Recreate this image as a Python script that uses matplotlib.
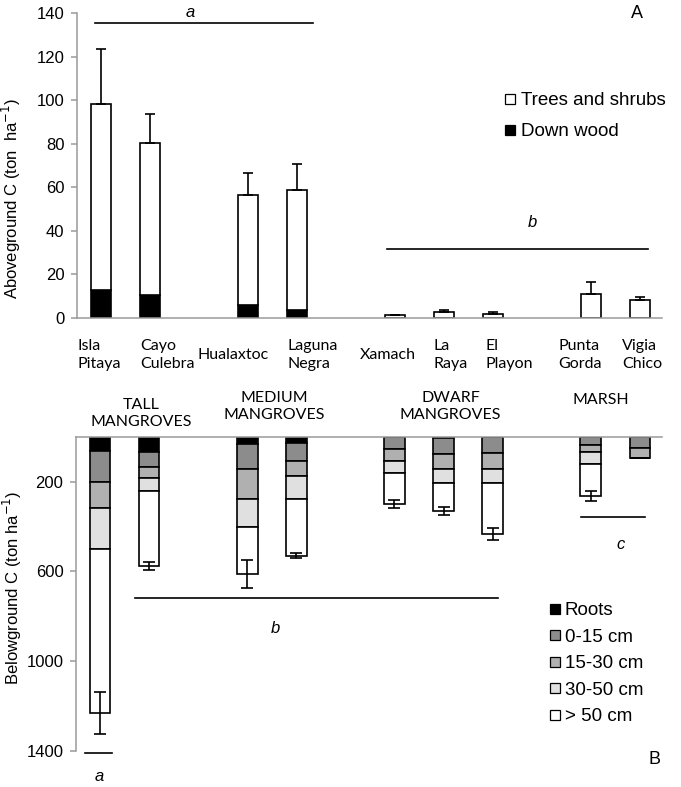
"""
Above- and belowground carbon stocks in mangroves and marsh sites.
"""

import matplotlib.pyplot as plt
from matplotlib.lines import Line2D

# sites, in plotting order (gaps between the forest types)
sites = [
    "Isla\nPitaya", "Cayo\nCulebra", "Hualaxtoc", "Laguna\nNegra",
    "Xamach", "La\nRaya", "El\nPlayon", "Punta\nGorda", "Vigia\nChico",
]
site_pos = [0, 1, 3, 4, 6, 7, 8, 10, 11]
groups = ["TALL\nMANGROVES", "MEDIUM\nMANGROVES", "DWARF\nMANGROVES", "MARSH"]

# aboveground C (ton/ha)
above_total = [98.0, 80.3, 56.5, 58.9, 1.4, 2.9, 2.0, 11.2, 8.2]
down_wood = [13.0, 10.6, 6.0, 3.5, 0.0, 0.0, 0.0, 0.0, 0.0]
above_err = [25.5, 13.1, 10.0, 11.6, 0.0, 0.8, 0.8, 5.3, 1.6]

# belowground C (ton/ha), per layer
roots = [64, 67, 34, 27, 0, 5, 0, 0, 0]
soil_0_15 = [137, 69, 111, 81, 56, 74, 71, 37, 49]
soil_15_30 = [115, 46, 134, 67, 52, 66, 74, 31, 44]
soil_30_50 = [185, 59, 125, 104, 52, 59, 59, 55, 0]
soil_50 = [730, 334, 208, 251, 141, 126, 230, 141, 0]
below_err = [93, 19, 63, 10, 18, 19, 28, 22, 0]

layer_names = ["Roots", "0-15 cm", "15-30 cm", "30-50 cm", "> 50 cm"]
layer_colors = ["#000000", "#8c8c8c", "#b0b0b0", "#e0e0e0", "#ffffff"]

AXIS_GRAY = "#9a9a9a"
SANS = ["Liberation Sans", "DejaVu Sans"]
HUMANIST = ["Lato", "DejaVu Sans"]
BAR_W = 0.42

plt.rcParams["font.family"] = SANS

figure = plt.figure(figsize=(6.81, 7.87), dpi=100)
top = figure.add_axes([0.113, 0.596, 0.859, 0.3875])
bottom = figure.add_axes([0.1116, 0.0457, 0.8604, 0.3994])

# ---- panel A: aboveground ----
trees = [t - d for t, d in zip(above_total, down_wood)]
top.bar(site_pos, down_wood, width=BAR_W, color="black",
        edgecolor="black", linewidth=1.2)
top.bar(site_pos, trees, width=BAR_W, bottom=down_wood, color="white",
        edgecolor="black", linewidth=1.2)
top.errorbar(site_pos, above_total,
             yerr=[[0] * len(site_pos), above_err],
             fmt="none", ecolor="black", elinewidth=1.2, capsize=3.5,
             capthick=1.2)

top.set_xlim(-0.49, 11.45)
top.set_ylim(0, 140)
top.set_yticks(range(0, 141, 20))
top.set_xticks([])
top.tick_params(axis="y", length=4, color=AXIS_GRAY, width=1.1,
                labelsize=12, pad=5)
for side in ["top", "right"]:
    top.spines[side].set_visible(False)
for side in ["left", "bottom"]:
    top.spines[side].set_color(AXIS_GRAY)
    top.spines[side].set_linewidth(1.1)

# site names sit under the bars, left aligned like the original
label_x = [-0.47, 0.80, 1.98, 3.80, 5.29, 6.78, 7.84, 9.33, 10.63]
for name, lx in zip(sites, label_x):
    top.text(lx, -17, name, family=HUMANIST, fontsize=11.5, ha="left",
             va="center", linespacing=1.45, clip_on=False)

top.set_ylabel("Aboveground C (ton  ha$^{-1}$)", fontsize=12)
top.yaxis.set_label_coords(-0.092, 0.39)

top.plot([-0.12, 4.33], [135.4, 135.4], color="black", linewidth=1.2)
top.text(1.82, 140, "a", style="italic", fontsize=12, ha="center",
         va="center")
top.plot([5.84, 11.16], [31.5, 31.5], color="black", linewidth=1.2)
top.text(8.8, 43.8, "b", style="italic", fontsize=12, ha="center",
         va="center")

top_handles = [
    Line2D([], [], marker="s", linestyle="none", markersize=7,
           markerfacecolor="white", markeredgecolor="black",
           markeredgewidth=0.9),
    Line2D([], [], marker="s", linestyle="none", markersize=7,
           markerfacecolor="black", markeredgecolor="black",
           markeredgewidth=0.9),
]
top.legend(top_handles, ["Trees and shrubs", "Down wood"],
           loc="upper left", bbox_to_anchor=(505 / 681, 1 - 92 / 787),
           bbox_transform=figure.transFigure, frameon=False,
           fontsize=13.5, handlelength=0.5, handletextpad=0.35,
           labelspacing=0.75, borderpad=0, borderaxespad=0)

figure.text(637 / 681, 1 - 14 / 787, "A", fontsize=13, ha="center",
            va="center")

# ---- panel B: belowground ----
layers = [roots, soil_0_15, soil_15_30, soil_30_50, soil_50]
base = [0] * len(site_pos)
for values, color in zip(layers, layer_colors):
    bottom.bar(site_pos, values, width=BAR_W, bottom=base, color=color,
               edgecolor="black", linewidth=1.2)
    base = [b + v for b, v in zip(base, values)]

bottom.errorbar(site_pos, base, yerr=below_err, fmt="none", ecolor="black",
                elinewidth=1.2, capsize=4, capthick=1.2)

bottom.set_xlim(-0.49, 11.45)
bottom.set_ylim(1400, 0)
bottom.set_yticks([200, 600, 1000, 1400])
bottom.set_xticks([])
bottom.tick_params(axis="y", length=4, color=AXIS_GRAY, width=1.1,
                   labelsize=12, pad=5)
for side in ["bottom", "right"]:
    bottom.spines[side].set_visible(False)
for side in ["left", "top"]:
    bottom.spines[side].set_color(AXIS_GRAY)
    bottom.spines[side].set_linewidth(1.1)

bottom.set_ylabel("Belowground C (ton ha$^{-1}$)", fontsize=12)
bottom.yaxis.set_label_coords(-0.088, 0.52)

group_x = [0.84, 3.55, 7.14, 10.2]
group_y = [-105, -134, -134, -163]
for label, gx, gy in zip(groups, group_x, group_y):
    bottom.text(gx, gy, label, family=HUMANIST, fontsize=11.5, ha="center",
                va="center", linespacing=1.25, clip_on=False)

bottom.plot([-0.3, 0.25], [1409, 1409], color="black", linewidth=1.2,
            clip_on=False)
bottom.text(-0.02, 1512, "a", style="italic", fontsize=12, ha="center",
            va="center", clip_on=False)
bottom.plot([0.71, 8.1], [718, 718], color="black", linewidth=1.2)
bottom.text(3.57, 856, "b", style="italic", fontsize=12, ha="center",
            va="center")
bottom.plot([9.8, 11.1], [356, 356], color="black", linewidth=1.2)
bottom.text(10.6, 479, "c", style="italic", fontsize=12, ha="center",
            va="center")

bottom_handles = [
    Line2D([], [], marker="s", linestyle="none", markersize=7,
           markerfacecolor=color, markeredgecolor="black",
           markeredgewidth=0.9)
    for color in layer_colors
]
bottom.legend(bottom_handles, layer_names, loc="upper left",
              bbox_to_anchor=(550 / 681, 1 - 602 / 787),
              bbox_transform=figure.transFigure, frameon=False,
              fontsize=13.5, handlelength=0.5, handletextpad=0.3,
              labelspacing=0.5, borderpad=0, borderaxespad=0)

figure.text(655 / 681, 1 - 760 / 787, "B", fontsize=13, ha="center",
            va="center")

figure.savefig("out.png", dpi=100)
plt.close(figure)
